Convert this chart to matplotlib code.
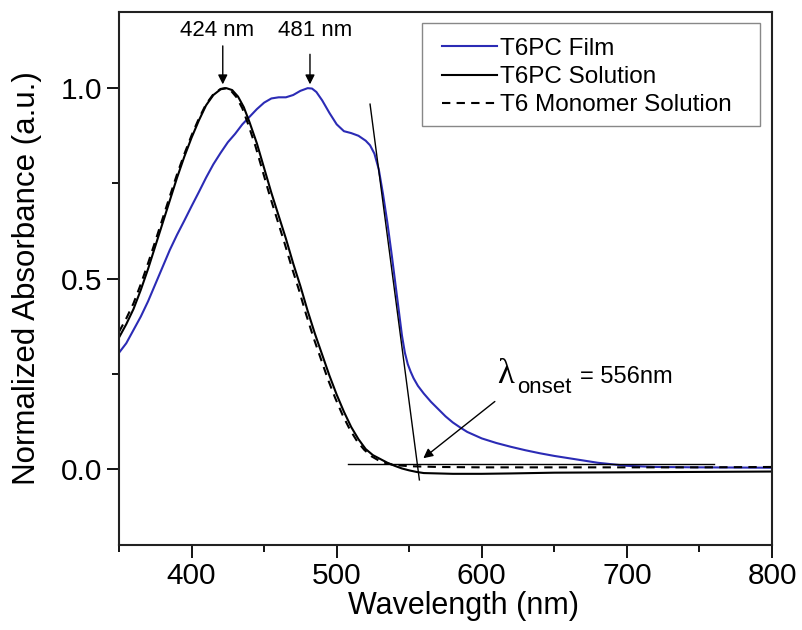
import matplotlib.pyplot as plt
from matplotlib.patches import Rectangle
from matplotlib.ticker import MultipleLocator

plt.rcParams['font.family'] = ['Liberation Sans', 'DejaVu Sans']

# T6PC solution
wl_sol = [350, 355, 360, 365, 370, 375, 380, 385, 390, 395, 400, 405, 410, 415, 420, 424,
          428, 432, 436, 440, 445, 450, 455, 460, 465, 470, 475, 480, 485, 490, 495, 500,
          505, 510, 515, 520, 525, 530, 535, 540, 545, 550, 555, 560, 580, 600, 620, 650,
          700, 750, 800]
abs_sol = [0.345, 0.38, 0.42, 0.47, 0.525, 0.585, 0.645, 0.705, 0.765, 0.82, 0.87, 0.915,
           0.955, 0.982, 0.997, 1.0, 0.995, 0.978, 0.95, 0.91, 0.855, 0.79, 0.725, 0.665,
           0.605, 0.54, 0.48, 0.415, 0.355, 0.30, 0.245, 0.195, 0.15, 0.11, 0.078, 0.052,
           0.036, 0.026, 0.016, 0.008, 0.001, -0.004, -0.008, -0.011, -0.013, -0.013,
           -0.012, -0.010, -0.009, -0.008, -0.007]

# T6 monomer solution
wl_mono = [350, 355, 360, 365, 370, 375, 380, 385, 390, 395, 400, 405, 410, 415, 420, 423,
           427, 431, 435, 439, 444, 449, 454, 459, 464, 469, 474, 479, 484, 489, 494, 499,
           504, 509, 514, 519, 524, 529, 534, 540, 550, 570, 600, 650, 700, 750, 800]
abs_mono = [0.36, 0.395, 0.435, 0.485, 0.54, 0.598, 0.657, 0.716, 0.774, 0.827, 0.876, 0.92,
            0.958, 0.984, 0.998, 1.0, 0.994, 0.976, 0.947, 0.905, 0.848, 0.782, 0.716, 0.655,
            0.594, 0.53, 0.47, 0.405, 0.345, 0.29, 0.235, 0.186, 0.142, 0.104, 0.073, 0.05,
            0.033, 0.022, 0.015, 0.01, 0.007, 0.005, 0.004, 0.004, 0.004, 0.004, 0.005]

# T6PC film
wl_film = [350, 355, 360, 365, 370, 375, 380, 385, 390, 395, 400, 405, 410, 415, 420, 425,
           430, 435, 440, 445, 450, 455, 460, 465, 470, 475, 480, 483, 486, 490, 495, 500,
           505, 510, 515, 520, 523, 526, 529, 532, 535, 538, 541, 543, 545, 547, 549, 551,
           553, 556, 560, 565, 570, 575, 580, 585, 590, 600, 610, 620, 630, 640, 650, 660,
           670, 680, 690, 700, 720, 750, 800]
abs_film = [0.305, 0.33, 0.365, 0.40, 0.44, 0.485, 0.53, 0.575, 0.615, 0.652, 0.69, 0.727,
            0.765, 0.80, 0.83, 0.858, 0.88, 0.905, 0.925, 0.945, 0.962, 0.973, 0.976, 0.976,
            0.982, 0.993, 1.0, 0.999, 0.99, 0.968, 0.935, 0.905, 0.887, 0.882, 0.875, 0.862,
            0.85, 0.828, 0.787, 0.72, 0.645, 0.56, 0.47, 0.41, 0.35, 0.305, 0.275, 0.255,
            0.238, 0.218, 0.198, 0.176, 0.157, 0.138, 0.122, 0.109, 0.097, 0.08, 0.068,
            0.058, 0.049, 0.041, 0.034, 0.028, 0.022, 0.016, 0.012, 0.008, 0.005, 0.004,
            0.003]

# onset construction: tangent to the film edge and baseline
tangent_wl = [523, 557]
tangent_abs = [0.958, -0.029]
base_wl = [508, 760]
base_abs = [0.012, 0.012]

peak_sol = 424
peak_film = 481
onset = 556

fig = plt.figure(figsize=(8.02, 6.3), dpi=100)
ax = fig.add_axes([0.1484, 0.1349, 0.8142, 0.846])

ax.plot(wl_film, abs_film, color='#2b2bb5', lw=1.5, label='T6PC Film')
ax.plot(wl_sol, abs_sol, color='black', lw=1.5, label='T6PC Solution')
ax.plot(wl_mono, abs_mono, color='black', lw=1.5, ls=(0, (4, 3)), label='T6 Monomer Solution')
ax.plot(tangent_wl, tangent_abs, color='black', lw=1.0)
ax.plot(base_wl, base_abs, color='black', lw=1.0)

# peak labels with arrows
arrow = dict(arrowstyle='-|>', color='black', lw=1.0, mutation_scale=14, shrinkA=0, shrinkB=0)
ax.text(peak_sol - 6.7, 1.151, f'{peak_sol} nm', ha='center', va='center', fontsize=16)
ax.annotate('', xy=(peak_sol - 2.5, 1.01), xytext=(peak_sol - 2.5, 1.111), arrowprops=arrow)
ax.text(peak_film + 4, 1.151, f'{peak_film} nm', ha='center', va='center', fontsize=16)
ax.annotate('', xy=(peak_film + 0.6, 1.01), xytext=(peak_film + 0.6, 1.089), arrowprops=arrow)

# onset label
ax.annotate('', xy=(559.7, 0.028), xytext=(609, 0.177), arrowprops=arrow)
ax.text(610.3, 0.2255, '\u03bb', fontsize=25, family=['Liberation Serif', 'DejaVu Serif'],
        ha='left', va='baseline')
ax.text(624.1, 0.199, 'onset', fontsize=16, ha='left', va='baseline')
ax.text(667.7, 0.2255, f'= {onset}nm', fontsize=17, ha='left', va='baseline')

ax.set_xlim(350, 800)
ax.set_ylim(-0.2, 1.2)
ax.xaxis.set_major_locator(MultipleLocator(100))
ax.xaxis.set_minor_locator(MultipleLocator(50))
ax.yaxis.set_major_locator(MultipleLocator(0.5))
ax.yaxis.set_minor_locator(MultipleLocator(0.25))
ax.tick_params(which='major', direction='out', length=9, width=1.3, labelsize=21.5, pad=3)
ax.tick_params(which='minor', direction='out', length=5, width=1.3)
for s in ax.spines.values():
    s.set_linewidth(1.5)
    s.set_color('#222222')

ax.set_xlabel('Wavelength (nm)', fontsize=22)
ax.set_ylabel('Normalized Absorbance (a.u.)', fontsize=22.5)
ax.xaxis.set_label_coords(0.527, -0.087)
ax.yaxis.set_label_coords(-0.118, 0.5)

# legend box drawn separately so its padding can differ horizontally and vertically
ax.add_patch(Rectangle((0.464, 0.786), 0.5176, 0.193, transform=ax.transAxes,
                       facecolor='white', edgecolor='#888888', lw=1.0, zorder=4))
leg = ax.legend(loc='center left', bbox_to_anchor=(0.4946, 0.878), fontsize=17.5,
                frameon=False, handlelength=2.26, handletextpad=0.12,
                labelspacing=0.26, borderpad=0, borderaxespad=0)
leg.set_zorder(5)

fig.savefig('out.png', dpi=100)
